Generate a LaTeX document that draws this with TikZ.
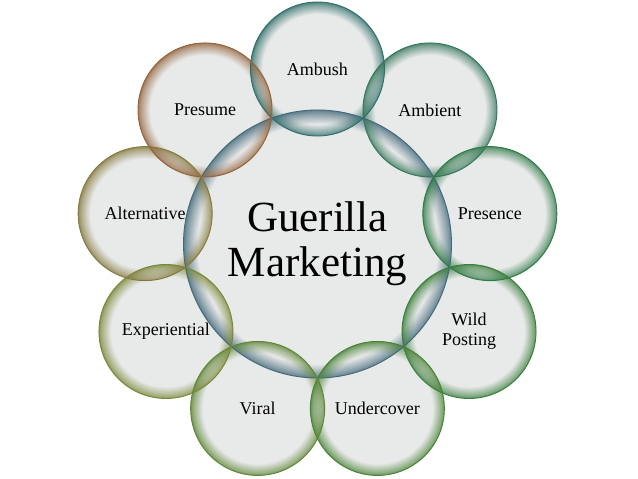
\documentclass[tikz,border=0pt]{standalone}
\usepackage{fontspec}
\setmainfont{Liberation Serif}
\usetikzlibrary{fadings}
\definecolor{bubblegrey}{HTML}{E8E9E9}
\definecolor{hubc}{HTML}{43697A}
\definecolor{ambushc}{HTML}{2F6E6A}
\definecolor{ambientc}{HTML}{36775C}
\definecolor{presencec}{HTML}{2F7A47}
\definecolor{wildc}{HTML}{3A7E3C}
\definecolor{underc}{HTML}{488234}
\definecolor{viralc}{HTML}{5E8636}
\definecolor{experc}{HTML}{798838}
\definecolor{altc}{HTML}{857A3E}
\definecolor{presumec}{HTML}{93643C}
\pgfdeclareradialshading{rimshade}{\pgfpointorigin}{color(0bp)=(black); color(20.5bp)=(black); color(24bp)=(white!60!black); color(25bp)=(white!85!black); color(50bp)=(white!85!black)}
\pgfdeclareradialshading{hubshade}{\pgfpointorigin}{color(0bp)=(black); color(22.3bp)=(black); color(24.3bp)=(white!60!black); color(25bp)=(white!85!black); color(50bp)=(white!85!black)}
\pgfdeclarefading{rimfade}{\pgfuseshading{rimshade}}
\pgfdeclarefading{hubfade}{\pgfuseshading{hubshade}}
\tikzstyle{base} = [fill=bubblegrey]
\tikzstyle{rim} = [path fading=rimfade]
\tikzstyle{hubrim} = [path fading=hubfade]
\tikzstyle{bubble} = [circle,draw,line width=0.9pt,minimum size=134pt,inner sep=0pt,align=center,font=\fontsize{18}{20}\selectfont]
\tikzstyle{hub} = [bubble,minimum size=268pt,font=\fontsize{43}{45}\selectfont]

\begin{document}
\begin{tikzpicture}[x=1pt,y=1pt]
        \useasboundingbox (-317.5,-235) rectangle (320.5,244);
        % grey insides first, then the coloured rims
        \fill[base] (0,0) circle (134);
        \foreach \a in {90,50,...,-230}
            \fill[base] (\a:175) circle (67);
        \fill[hubrim, hubc] (0,0) circle (134);
        \foreach \a/\c in {90/ambushc,50/ambientc,10/presencec,-30/wildc,-70/underc,-110/viralc,-150/experc,170/altc,130/presumec}
            \fill[rim, \c] (\a:175) circle (67);

        \node[hub, draw=hubc] at (0,0) (gm) {Guerilla\\Marketing};
        \node[bubble, draw=ambushc] at (90:175) (ambush) {Ambush};
        \node[bubble, draw=ambientc] at (50:175) (ambient) {Ambient};
        \node[bubble, draw=presencec] at (10:175) (presence) {Presence};
        \node[bubble, draw=wildc] at (-30:175) (wild) {Wild\\Posting};
        \node[bubble, draw=underc] at (-70:175) (under) {Undercover};
        \node[bubble, draw=viralc] at (-110:175) (viral) {Viral};
        \node[bubble, draw=experc] at (-150:175) (exper) {Experiential};
        \node[bubble, draw=altc] at (170:175) (alt) {Alternative};
        \node[bubble, draw=presumec] at (130:175) (presume) {Presume};
\end{tikzpicture}
\end{document}
